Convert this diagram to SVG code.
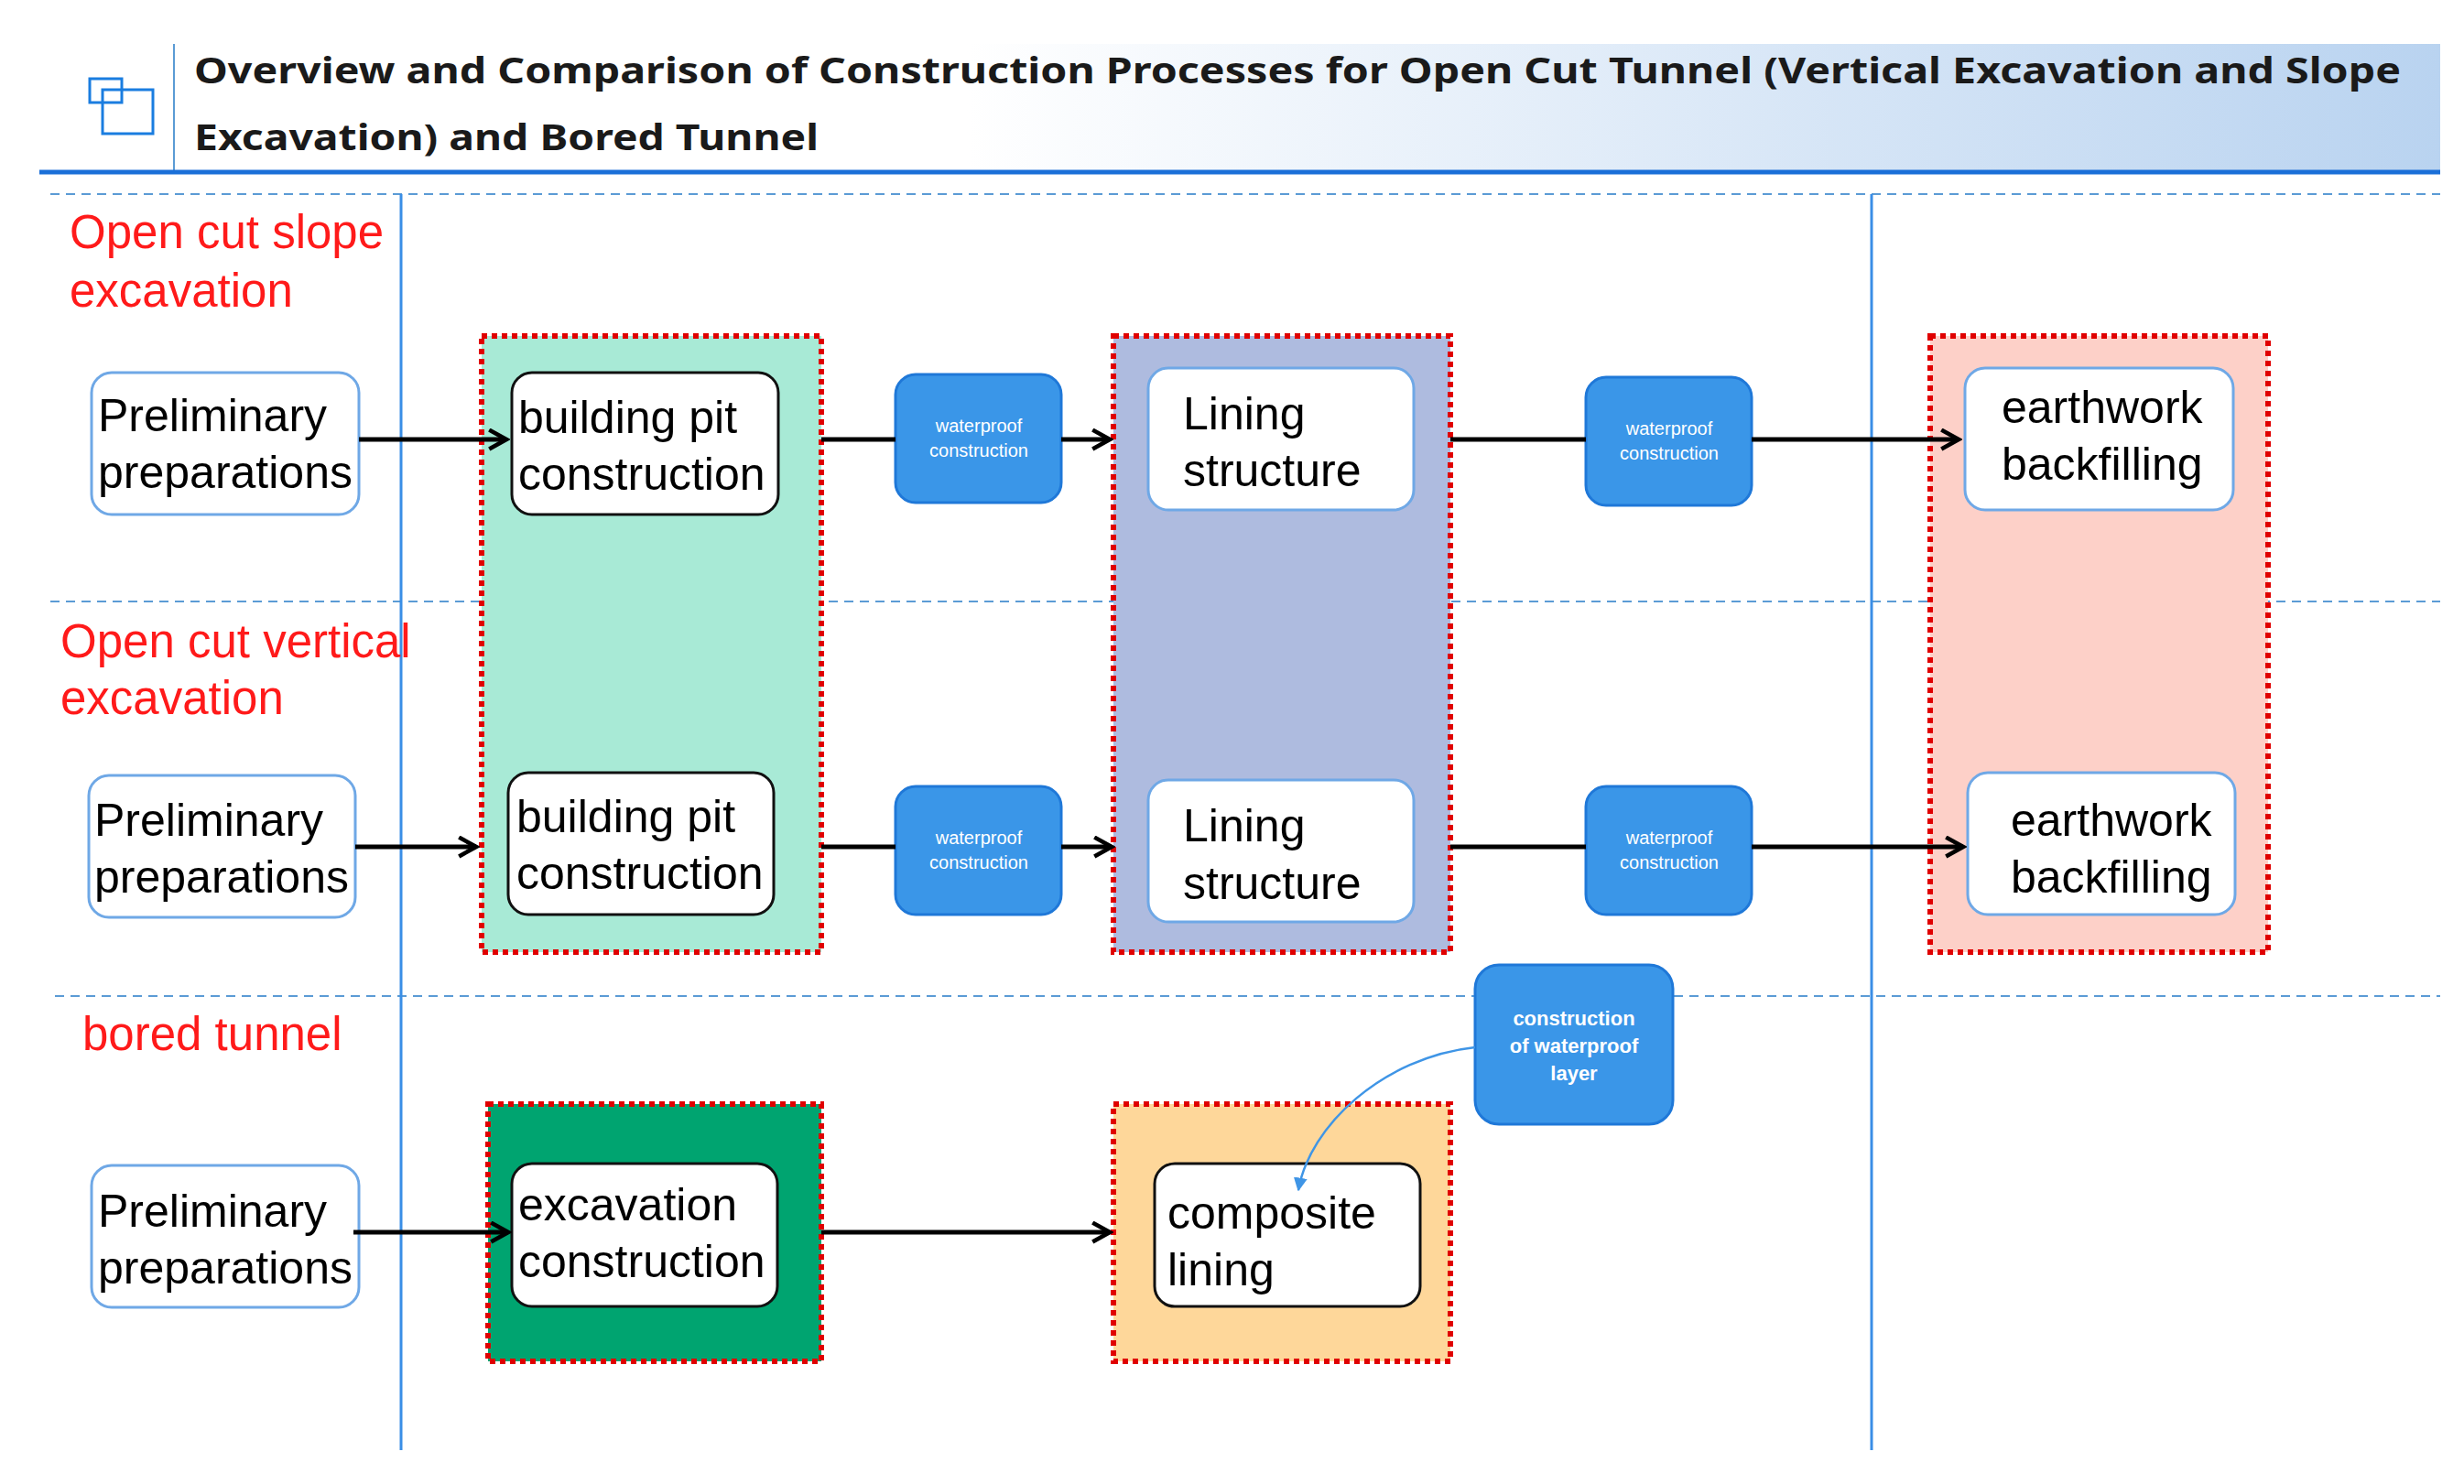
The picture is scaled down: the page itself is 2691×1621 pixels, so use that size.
<svg xmlns="http://www.w3.org/2000/svg" width="2691" height="1621" viewBox="0 0 2691 1621">
<defs>
<linearGradient id="hg" x1="0" y1="0" x2="1" y2="0">
<stop offset="0" stop-color="#ffffff"/><stop offset="0.35" stop-color="#ffffff"/><stop offset="1" stop-color="#b9d3f0"/>
</linearGradient>
<marker id="ah" viewBox="0 0 12 12" refX="10" refY="6" markerWidth="5" markerHeight="5" orient="auto" markerUnits="strokeWidth">
<path d="M1,1 L10,6 L1,11" fill="none" stroke="#000" stroke-width="2.2"/>
</marker>
<marker id="bh" viewBox="0 0 10 10" refX="9" refY="5" markerWidth="6" markerHeight="6" orient="auto" markerUnits="strokeWidth">
<path d="M0,0 L10,5 L0,10 Z" fill="#3f95e6"/>
</marker>
</defs>
<style>
.lane{font-family:"Liberation Sans",Arial,sans-serif;font-size:51px;fill:#ff1a1a}
.t{font-family:"Liberation Sans",Arial,sans-serif;font-size:50px;fill:#000}
.w{font-family:"Liberation Sans",Arial,sans-serif;font-size:20px;fill:#fff;text-anchor:middle}
.wb{font-family:"Liberation Sans",Arial,sans-serif;font-size:22px;fill:#fff;text-anchor:middle;font-weight:bold}
.nb{fill:#fff;stroke:#6fa8e6;stroke-width:3}
.nk{fill:#fff;stroke:#111;stroke-width:3}
.wp{fill:#3a96e8;stroke:#1f78d8;stroke-width:3}
.reg{stroke:#e00000;stroke-width:6;stroke-dasharray:6 5}
.dash{stroke:#5b9bd5;stroke-width:2;stroke-dasharray:10 7}
.c{stroke:#000;stroke-width:5;fill:none}
</style>
<g id="header">
<rect x="190" y="48" width="2475" height="138" fill="url(#hg)"/>
<line x1="190" y1="48" x2="190" y2="186" stroke="#5b9bd5" stroke-width="2"/>
<rect x="112" y="98" width="55" height="48" fill="none" stroke="#1a7de0" stroke-width="3"/>
<rect x="98" y="86" width="35" height="26" fill="none" stroke="#1a7de0" stroke-width="3"/>
<line x1="43" y1="188" x2="2665" y2="188" stroke="#1a6fd8" stroke-width="5"/>
<text x="212" y="91" font-family="'Noto Sans','DejaVu Sans',sans-serif" font-size="40" font-weight="bold" fill="#1a1a1a" textLength="2410" lengthAdjust="spacingAndGlyphs">Overview and Comparison of Construction Processes for Open Cut Tunnel (Vertical Excavation and Slope</text>
<text x="212" y="164" font-family="'Noto Sans','DejaVu Sans',sans-serif" font-size="40" font-weight="bold" fill="#1a1a1a" textLength="682" lengthAdjust="spacingAndGlyphs">Excavation) and Bored Tunnel</text>
</g>
<g id="grid">
<line class="dash" x1="55" y1="212" x2="2665" y2="212"/>
<line class="dash" x1="55" y1="657" x2="2665" y2="657"/>
<line class="dash" x1="60" y1="1088" x2="2665" y2="1088"/>
</g>
<g id="regions">
<rect class="reg" x="526" y="367" width="371" height="673" fill="#a8ead6"/>
<rect class="reg" x="1216" y="367" width="368" height="673" fill="#aebbdf"/>
<rect class="reg" x="2108" y="367" width="369" height="673" fill="#fdd0c8"/>
<rect class="reg" x="533" y="1206" width="364" height="281" fill="#00a470"/>
<rect class="reg" x="1216" y="1206" width="368" height="281" fill="#fed79a"/>
</g>
<g id="vlines">
<line x1="438" y1="212" x2="438" y2="1584" stroke="#3a8ee6" stroke-width="3"/>
<line x1="2044" y1="212" x2="2044" y2="1584" stroke="#3a8ee6" stroke-width="3"/>
</g>
<g id="lanes">
<text class="lane" x="76" y="271">Open cut slope</text>
<text class="lane" x="76" y="335">excavation</text>
<text class="lane" x="66" y="718">Open cut vertical</text>
<text class="lane" x="66" y="780">excavation</text>
<text class="lane" x="90" y="1147">bored tunnel</text>
</g>
<g id="n1"><rect class="nb" x="100" y="407" width="292" height="155" rx="22"/><text class="t" x="107" y="471">Preliminary</text><text class="t" x="107" y="533">preparations</text></g>
<g id="n2"><rect class="nk" x="559" y="407" width="291" height="155" rx="22"/><text class="t" x="566" y="473">building pit</text><text class="t" x="566" y="535">construction</text></g>
<g id="n3"><rect class="wp" x="978" y="409" width="181" height="140" rx="22"/><text class="w" x="1069" y="472">waterproof</text><text class="w" x="1069" y="499">construction</text></g>
<g id="n4"><rect class="nb" x="1254" y="402" width="290" height="155" rx="22"/><text class="t" x="1292" y="469">Lining</text><text class="t" x="1292" y="531">structure</text></g>
<g id="n5"><rect class="wp" x="1732" y="412" width="181" height="140" rx="22"/><text class="w" x="1823" y="475">waterproof</text><text class="w" x="1823" y="502">construction</text></g>
<g id="n6"><rect class="nb" x="2146" y="402" width="293" height="155" rx="22"/><text class="t" x="2186" y="462">earthwork</text><text class="t" x="2186" y="524">backfilling</text></g>
<g id="n7"><rect class="nb" x="97" y="847" width="291" height="155" rx="22"/><text class="t" x="103" y="913">Preliminary</text><text class="t" x="103" y="975">preparations</text></g>
<g id="n8"><rect class="nk" x="555" y="844" width="290" height="155" rx="22"/><text class="t" x="564" y="909">building pit</text><text class="t" x="564" y="971">construction</text></g>
<g id="n9"><rect class="wp" x="978" y="859" width="181" height="140" rx="22"/><text class="w" x="1069" y="922">waterproof</text><text class="w" x="1069" y="949">construction</text></g>
<g id="n10"><rect class="nb" x="1254" y="852" width="290" height="155" rx="22"/><text class="t" x="1292" y="919">Lining</text><text class="t" x="1292" y="982">structure</text></g>
<g id="n11"><rect class="wp" x="1732" y="859" width="181" height="140" rx="22"/><text class="w" x="1823" y="922">waterproof</text><text class="w" x="1823" y="949">construction</text></g>
<g id="n12"><rect class="nb" x="2149" y="844" width="292" height="155" rx="22"/><text class="t" x="2196" y="913">earthwork</text><text class="t" x="2196" y="975">backfilling</text></g>
<g id="n13"><rect class="nb" x="100" y="1273" width="292" height="155" rx="22"/><text class="t" x="107" y="1340">Preliminary</text><text class="t" x="107" y="1402">preparations</text></g>
<g id="n14"><rect class="nk" x="559" y="1271" width="290" height="156" rx="22"/><text class="t" x="566" y="1333">excavation</text><text class="t" x="566" y="1395">construction</text></g>
<g id="n15"><rect class="nk" x="1261" y="1271" width="290" height="156" rx="22"/><text class="t" x="1275" y="1342">composite</text><text class="t" x="1275" y="1404">lining</text></g>
<g id="n16"><rect class="wp" x="1611" y="1054" width="216" height="174" rx="26"/><text class="wb" x="1719" y="1120">construction</text><text class="wb" x="1719" y="1150">of waterproof</text><text class="wb" x="1719" y="1180">layer</text></g>
<g id="connectors">
<line class="c" x1="392" y1="480" x2="553" y2="480" marker-end="url(#ah)"/>
<line class="c" x1="897" y1="480" x2="978" y2="480"/>
<line class="c" x1="1159" y1="480" x2="1212" y2="480" marker-end="url(#ah)"/>
<line class="c" x1="1584" y1="480" x2="1732" y2="480"/>
<line class="c" x1="1913" y1="480" x2="2139" y2="480" marker-end="url(#ah)"/>
<line class="c" x1="388" y1="925" x2="520" y2="925" marker-end="url(#ah)"/>
<line class="c" x1="897" y1="925" x2="978" y2="925"/>
<line class="c" x1="1159" y1="925" x2="1214" y2="925" marker-end="url(#ah)"/>
<line class="c" x1="1584" y1="925" x2="1732" y2="925"/>
<line class="c" x1="1913" y1="925" x2="2144" y2="925" marker-end="url(#ah)"/>
<line class="c" x1="386" y1="1346" x2="555" y2="1346" marker-end="url(#ah)"/>
<line class="c" x1="897" y1="1346" x2="1212" y2="1346" marker-end="url(#ah)"/>
<path d="M1611,1144 C1510,1155 1430,1230 1418,1300" fill="none" stroke="#3f95e6" stroke-width="2.5" marker-end="url(#bh)"/>
</g>
</svg>
